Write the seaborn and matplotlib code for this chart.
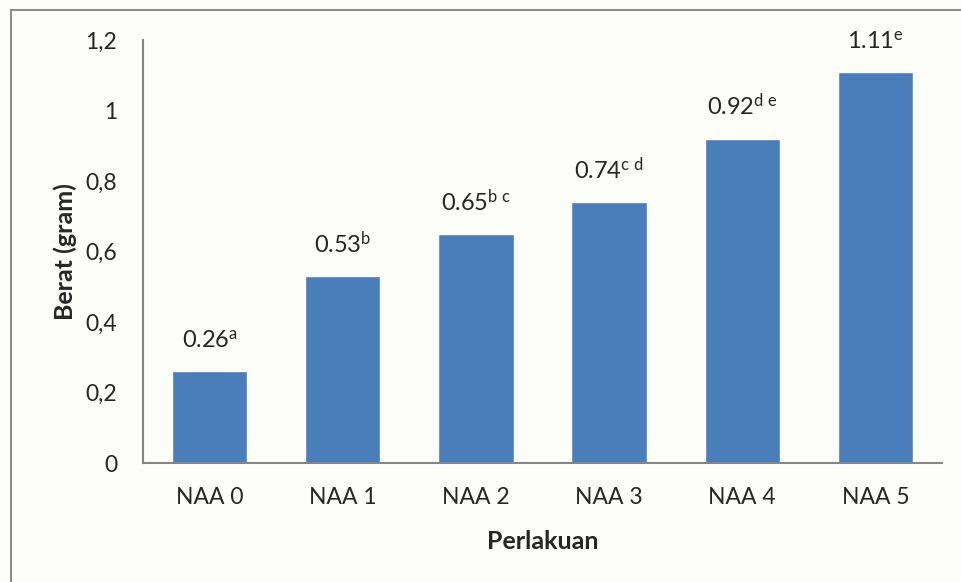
import matplotlib
matplotlib.use("Agg")
import matplotlib.pyplot as plt
import seaborn as sns
import pandas as pd
from matplotlib.lines import Line2D

categories = ["NAA 0", "NAA 1", "NAA 2", "NAA 3", "NAA 4", "NAA 5"]
values = [0.26, 0.53, 0.65, 0.74, 0.92, 1.11]
value_labels = ["0.26", "0.53", "0.65", "0.74", "0.92", "1.11"]
letters = ["a", "b", "b\\ c", "c\\ d", "d\\ e", "e"]
yticks = [0, 0.2, 0.4, 0.6, 0.8, 1.0, 1.2]
ytick_labels = ["0", "0,2", "0,4", "0,6", "0,8", "1", "1,2"]

sns.set_theme(style="white")
plt.rcParams["font.family"] = ["Lato", "DejaVu Sans"]
plt.rcParams["mathtext.fontset"] = "custom"
plt.rcParams["mathtext.rm"] = "Lato"
plt.rcParams["mathtext.it"] = "Lato"

bg = "#FDFDF9"
fig = plt.figure(figsize=(9.61, 5.82), dpi=100, facecolor=bg)
ax = fig.add_axes([143/961, 1-463/582, (942-143)/961, (463-40)/582])
ax.set_facecolor(bg)

df = pd.DataFrame({"Perlakuan": categories, "Berat": values})
sns.barplot(data=df, x="Perlakuan", y="Berat", color="#4A7EBB", saturation=1,
            width=0.565, ax=ax)

ax.set_ylim(0, 1.2)
ax.set_yticks(yticks)
ax.set_yticklabels(ytick_labels, fontsize=16.5)
ax.tick_params(axis="x", labelsize=16.5, pad=17, length=0)
ax.tick_params(axis="y", pad=18.5, length=0)

for s in ["top", "right"]:
    ax.spines[s].set_visible(False)
for s in ["left", "bottom"]:
    ax.spines[s].set_color("#868686")
    ax.spines[s].set_linewidth(1.5)

ax.set_xlabel("Perlakuan", fontsize=18, fontweight="bold", labelpad=16)
ax.set_ylabel("Berat (gram)", fontsize=18, fontweight="bold", labelpad=6)

for i, (v, vl, lt) in enumerate(zip(values, value_labels, letters)):
    ax.annotate(vl + r"$^{\mathrm{" + lt + "}}$", (i, v), xytext=(0, 14),
                textcoords="offset points", ha="center", va="bottom", fontsize=17)

fig.add_artist(Line2D([11/961, 11/961], [0, 1-10/582], transform=fig.transFigure,
                      color="#8C8C8C", lw=1.5))
fig.add_artist(Line2D([11/961, 1], [1-10/582, 1-10/582], transform=fig.transFigure,
                      color="#8C8C8C", lw=1.5))

fig.savefig("out.png", dpi=100, facecolor=bg)
